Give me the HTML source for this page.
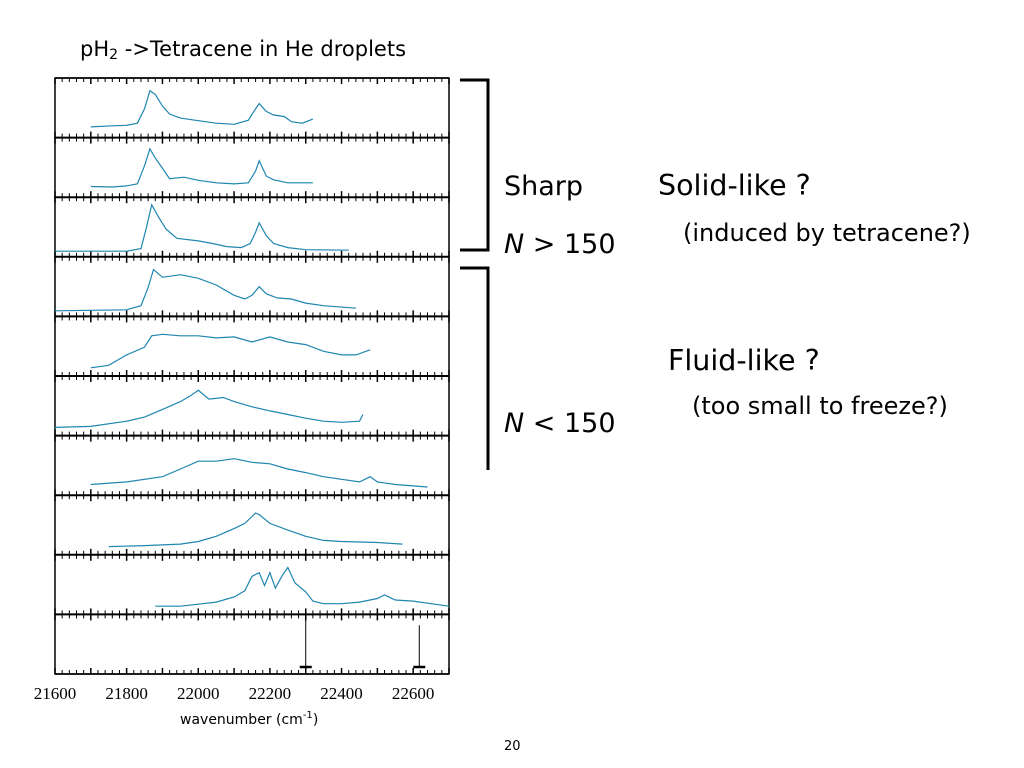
<!DOCTYPE html>
<html><head><meta charset="utf-8">
<style>
body{margin:0;background:#fff;width:1024px;height:768px;overflow:hidden;font-family:"DejaVu Sans","Liberation Sans",sans-serif;}
svg{position:absolute;left:0;top:0}
</style></head>
<body>
<svg id="c" width="1024" height="768">
<text x="80" y="56" font-size="21">p<tspan>H</tspan><tspan font-size="14" dy="3">2</tspan><tspan dy="-3"> -&gt;Tetracene in He droplets</tspan></text>
<g stroke="#000" stroke-width="3" fill="none"><polyline points="460,80 488,80 488,250 460,250"/></g>
<g stroke="#000" stroke-width="3" fill="none"><polyline points="460,268 488,268 488,470"/></g>
<g font-size="27" fill="#000">
<text x="504" y="195">Sharp</text>
<text x="504" y="253"><tspan font-style="italic">N</tspan> &gt; 150</text>
<text x="658" y="195" font-size="28.5">Solid-like ?</text>
<text x="668" y="370" font-size="28.5">Fluid-like ?</text>
<text x="504" y="432"><tspan font-style="italic">N</tspan> &lt; 150</text>
</g>
<g font-size="24" fill="#000">
<text x="683" y="241">(induced by tetracene?)</text>
<text x="692" y="414">(too small to freeze?)</text>
</g>
<text x="180" y="724" font-size="14">wavenumber (cm<tspan font-size="10" dy="-6">-1</tspan><tspan dy="6">)</tspan></text>
<text x="504" y="750" font-size="13">20</text>
<g id="plot"></g>
</svg>
<script>
const xTicks=[21600,21800,22000,22200,22400,22600];
const s1x=[21700,21760,21800,21830,21850,21865,21880,21900,21920,21950,22000,22050,22100,22140,22155,22170,22190,22210,22240,22260,22290,22320];
const s1y=[0.15,0.17,0.18,0.22,0.5,0.85,0.78,0.55,0.4,0.32,0.27,0.22,0.2,0.28,0.45,0.6,0.45,0.38,0.35,0.25,0.22,0.3];
const s2x=[21700,21760,21800,21830,21850,21865,21880,21900,21920,21960,22000,22050,22100,22140,22160,22170,22190,22210,22250,22320];
const s2y=[0.15,0.14,0.16,0.2,0.55,0.88,0.7,0.5,0.3,0.33,0.27,0.22,0.2,0.22,0.45,0.65,0.35,0.28,0.22,0.22];
const s3x=[21600,21800,21840,21855,21870,21890,21910,21940,22000,22040,22080,22120,22145,22160,22170,22190,22210,22250,22300,22420];
const s3y=[0.05,0.05,0.1,0.5,0.95,0.7,0.48,0.3,0.25,0.2,0.14,0.12,0.2,0.42,0.6,0.35,0.2,0.12,0.08,0.07];
const s4x=[21600,21800,21840,21860,21875,21900,21950,22000,22050,22100,22130,22150,22170,22190,22220,22260,22300,22350,22440];
const s4y=[0.05,0.07,0.15,0.5,0.85,0.7,0.75,0.68,0.55,0.35,0.28,0.35,0.52,0.38,0.3,0.28,0.2,0.15,0.1];
const s5x=[21700,21750,21800,21850,21870,21900,21950,22000,22050,22100,22150,22200,22250,22300,22350,22400,22440,22480];
const s5y=[0.1,0.15,0.35,0.5,0.72,0.75,0.72,0.72,0.68,0.7,0.6,0.7,0.6,0.55,0.42,0.35,0.35,0.45];
const s6x=[21600,21700,21800,21850,21900,21950,21980,22000,22030,22070,22100,22150,22200,22250,22300,22350,22400,22450,22460];
const s6y=[0.1,0.12,0.22,0.3,0.45,0.6,0.72,0.82,0.65,0.68,0.6,0.5,0.42,0.35,0.28,0.22,0.2,0.22,0.35];
const s7x=[21700,21800,21900,21950,22000,22050,22100,22150,22200,22250,22300,22350,22400,22450,22480,22500,22550,22640];
const s7y=[0.15,0.2,0.3,0.45,0.6,0.6,0.65,0.58,0.55,0.45,0.38,0.3,0.25,0.2,0.3,0.2,0.15,0.1];
const s8x=[21750,21850,21950,22000,22050,22100,22130,22160,22170,22200,22250,22300,22350,22400,22500,22570];
const s8y=[0.1,0.12,0.15,0.2,0.3,0.45,0.55,0.75,0.72,0.55,0.42,0.3,0.22,0.2,0.18,0.15];
const s9x=[21880,21950,22000,22050,22100,22130,22150,22170,22185,22200,22215,22235,22250,22270,22300,22320,22350,22400,22450,22500,22520,22550,22600,22650,22700];
const s9y=[0.1,0.1,0.14,0.18,0.28,0.4,0.68,0.75,0.5,0.75,0.45,0.7,0.85,0.55,0.38,0.2,0.15,0.15,0.18,0.25,0.32,0.22,0.2,0.15,0.1];
const stickX=[22300,22617];
const stickH=[0.85,0.7];

const X0=55,X1=449,VMIN=21600,VMAX=22700,TOP=78,PH=59.6,NP=10;
const xs=v=>X0+(v-VMIN)/(VMAX-VMIN)*(X1-X0);
const NS="http://www.w3.org/2000/svg";
const g=document.getElementById('plot');
function mk(t,a){const e=document.createElementNS(NS,t);for(const k in a)e.setAttribute(k,a[k]);g.appendChild(e);return e;}
const frame=mk('rect',{x:X0,y:TOP,width:X1-X0,height:PH*NP,fill:'none',stroke:'#000','stroke-width':1.5});


for(let p=0;p<=NP;p++){
  const y=TOP+p*PH;
  const l=mk('line',{x1:X0,x2:X1,y1:y,y2:y,stroke:'#000','stroke-width':p==0||p==NP?1.5:2});
  
  
  for(let v=VMIN;v<=VMAX;v+=20){
    const major=(v%100===0);const len=major?6:4;
    const x=xs(v);
    if(p<NP){const t=mk('line',{x1:x,x2:x,y1:y,y2:y+len,stroke:'#000','stroke-width':major?1.5:1});}
    if(p>0){const t=mk('line',{x1:x,x2:x,y1:y,y2:y-len,stroke:'#000','stroke-width':major?1.5:1});}
  }
}
xTicks.forEach(v=>{
  const t=mk('text',{x:xs(v),y:699,'text-anchor':'middle','font-size':17,'font-family':'"Liberation Serif",serif'});
  t.textContent=v;
  
  
});
const series=[[s1x,s1y],[s2x,s2y],[s3x,s3y],[s4x,s4y],[s5x,s5y],[s6x,s6y],[s7x,s7y],[s8x,s8y],[s9x,s9y]];
series.forEach((s,i)=>{
  const base=TOP+(i+1)*PH-3;
  const pts=s[0].map((v,j)=>xs(v).toFixed(1)+','+(base-s[1][j]*(PH-8)).toFixed(1)).join(' ');
  const pl=mk('polyline',{points:pts,fill:'none',stroke:'#1f86b0','stroke-width':1.2});
  
  
});
const sb=TOP+NP*PH-7;
stickX.forEach((v,i)=>{
  const x=xs(v);
  const l=mk('line',{x1:x,x2:x,y1:sb,y2:sb-stickH[i]*PH,stroke:'#000','stroke-width':1});
  
  
  const b=mk('line',{x1:x-6,x2:x+6,y1:sb,y2:sb,stroke:'#000','stroke-width':2.5});
  
  
});
</script>
</body></html>
